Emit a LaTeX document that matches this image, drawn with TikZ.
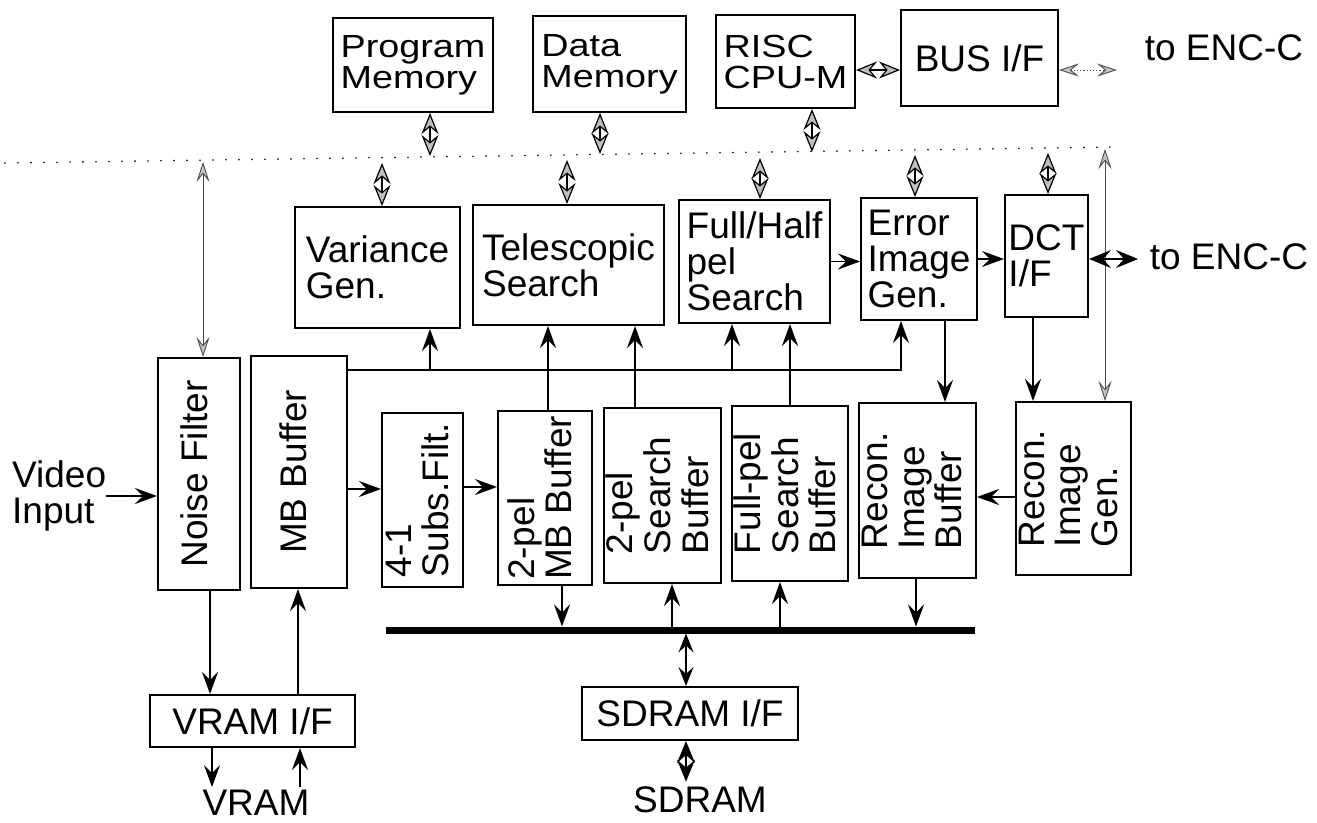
\documentclass[tikz,border=0pt]{standalone}
\usepackage{fontspec}
\setmainfont{Liberation Sans}
\newfontfamily\topfont{Liberation Sans}[FakeStretch=1.18]
\usepackage{graphicx}
\usetikzlibrary{arrows.meta}
\newcommand{\vtxt}[1]{\rotatebox{90}{\begin{tabular}{@{}l@{}}#1\end{tabular}}}
\begin{document}
\begin{tikzpicture}[x=1pt,y=-1pt,line join=miter,
  blk/.style={draw, line width=2pt, inner sep=0pt, font=\fontsize{37}{36}\selectfont, align=left},
  topblk/.style={blk, font=\topfont\fontsize{32}{31}\selectfont},
  lbl/.style={inner sep=0pt, font=\fontsize{37}{36}\selectfont, align=left},
  arr/.style={line width=1.5pt, -{Stealth[length=22pt,width=16pt,inset=8pt]}},
  darr/.style={line width=1.5pt, {Stealth[length=19pt,width=15pt,inset=7pt]}-{Stealth[length=19pt,width=15pt,inset=7pt]}},
  dia/.style={line width=1.2pt, {Stealth[length=21pt,width=17pt,inset=7pt,fill=gray!50]}-{Stealth[length=21pt,width=17pt,inset=7pt,fill=gray!50]}},
  diab/.style={line width=1.5pt, {Stealth[length=22pt,width=18pt,inset=8pt]}-{Stealth[length=22pt,width=18pt,inset=8pt]}},
  gthin/.style={draw=gray!60!black, line width=0.9pt, {Stealth[length=20pt,width=13pt,inset=8pt,fill=gray!45]}-{Stealth[length=20pt,width=13pt,inset=8pt,fill=gray!45]}},
  gdot/.style={gthin, dash pattern=on 1.2pt off 2pt}
]
\fill[white] (0,0) rectangle (1317,822);
\useasboundingbox (0,0) rectangle (1317,822);

% top row
\node[topblk, minimum width=160pt, minimum height=94pt] (pm) at (413,65) {Program\\Memory};
\node[topblk, minimum width=153pt, minimum height=96pt] (dm) at (609.5,64) {Data\\Memory};
\node[topblk, minimum width=139pt, minimum height=93pt] (risc) at (785.5,61.5) {RISC\\CPU-M};
\node[blk, minimum width=157pt, minimum height=96pt] (bif) at (979.5,58) {BUS I/F};
\node[lbl] (enc1) at (1224,48) {to ENC-C};

% middle row
\node[blk, minimum width=165pt, minimum height=121pt] (var) at (377.5,267.5) {Variance\\Gen.};
\node[blk, minimum width=191pt, minimum height=120pt] (tel) at (568.5,265) {Telescopic\\Search};
\node[blk, minimum width=151pt, minimum height=123pt] (fh) at (754.5,261.5) {Full/Half\\pel\\Search};
\node[blk, minimum width=116pt, minimum height=122pt] (err) at (919,259) {Error\\Image\\Gen.};
\node[blk, minimum width=83pt, minimum height=122pt] (dct) at (1046.5,256) {DCT\\I/F};
\node[lbl] (enc2) at (1229,257) {to ENC-C};

% bottom row
\node[blk, minimum width=82pt, minimum height=232pt] (nf) at (199,474) {\vtxt{Noise Filter}};
\node[blk, minimum width=96pt, minimum height=232pt] (mbb) at (299,472) {\vtxt{MB Buffer}};
\node[blk, minimum width=81pt, minimum height=174pt] (sub) at (422.5,500) {\vtxt{4-1\\Subs.Filt.}};
\node[blk, minimum width=94pt, minimum height=174pt] (pmb) at (545,498) {\vtxt{2-pel\\MB Buffer}};
\node[blk, minimum width=117pt, minimum height=175pt] (psb) at (662.5,495.5) {\vtxt{2-pel\\Search\\Buffer}};
\node[blk, minimum width=116pt, minimum height=175pt] (fsb) at (790,493.5) {\vtxt{Full-pel\\Search\\Buffer}};
\node[blk, minimum width=117pt, minimum height=175pt] (rib) at (917.5,490.5) {\vtxt{Recon.\\Image\\Buffer}};
\node[blk, minimum width=115pt, minimum height=173pt] (rig) at (1073.5,488.5) {\vtxt{Recon.\\Image\\Gen.}};

% lower
\node[blk, minimum width=205pt, minimum height=52pt] (vif) at (252.5,721) {VRAM I/F};
\node[lbl] (vram) at (256,803) {VRAM};
\node[blk, minimum width=216pt, minimum height=53pt] (sif) at (690,713.5) {SDRAM I/F};
\node[lbl] (sdram) at (700,800) {SDRAM};
\node[lbl, anchor=west] (vin) at (12,496) {Video\\Input};

% dotted separator
\coordinate (dl) at (5,163); \coordinate (dr) at (1117,147);
\draw[line width=1.8pt, line cap=round, dash pattern=on 0pt off 13pt] (dl) -- (dr);

% diamonds top -> dotted
\coordinate (pmd) at (430,156); \draw[dia] (pm.south -| pmd) -- (pmd);
\coordinate (dmd) at (600,154); \draw[dia] (dm.south -| dmd) -- (dmd);
\coordinate (rid) at (812,152); \draw[dia] (risc.south -| rid) -- (rid);
% dotted -> middle
\coordinate (vad) at (382,163); \draw[dia] (vad) -- (var.north -| vad);
\coordinate (ted) at (567,160); \draw[dia] (ted) -- (tel.north -| ted);
\coordinate (fhd) at (760,158); \draw[dia] (fhd) -- (fh.north -| fhd);
\coordinate (erd) at (915,155); \draw[dia] (erd) -- (err.north -| erd);
\coordinate (dcd) at (1048,153); \draw[dia] (dcd) -- (dct.north -| dcd);
% thin gray
\coordinate (nfd) at (203,162); \draw[gthin] (nfd) -- (nf.north -| nfd);
\coordinate (rgd) at (1105,149); \draw[gthin] (rgd) -- (rig.north -| rgd);

% top horizontal
\coordinate (rb) at (0,70); \draw[dia] (risc.east |- rb) -- (bif.west |- rb);
\coordinate (e1) at (1117,70); \draw[gdot] (bif.east |- e1) -- (e1);

% middle horizontal
\draw[arr] (fh.east) -- (err.west |- fh.east);
\draw[arr] (err.east) -- (dct.west |- err.east);
\coordinate (e2) at (1138,259); \draw[diab] (dct.east |- e2) -- (e2);

% bottom horizontal
\draw[arr] (vin.east) -- (nf.west |- vin.east);
\coordinate (h1) at (0,489); \draw[arr] (mbb.east |- h1) -- (sub.west |- h1);
\coordinate (h2) at (0,487); \draw[arr] (sub.east |- h2) -- (pmb.west |- h2);
\coordinate (h3) at (0,497); \draw[arr] (rig.west |- h3) -- (rib.east |- h3);

% MB buffer distribution line
\coordinate (hl) at (0,370); \coordinate (x901) at (901,0);
\draw[arr] (mbb.east |- hl) -| (err.south -| x901);
\coordinate (j1) at (430,370); \draw[arr] (j1) -- (var.south -| j1);
\coordinate (j2) at (732,370); \draw[arr] (j2) -- (fh.south -| j2);

% verticals between middle and bottom
\coordinate (x548) at (548,0); \draw[arr] (pmb.north -| x548) -- (tel.south -| x548);
\coordinate (x635) at (635,0); \draw[arr] (psb.north -| x635) -- (tel.south -| x635);
\coordinate (x790) at (790,0); \draw[arr] (fsb.north -| x790) -- (fh.south -| x790);
\coordinate (x945) at (945,0); \draw[arr] (err.south -| x945) -- (rib.north -| x945);
\coordinate (x1033) at (1033,0); \draw[arr] (dct.south -| x1033) -- (rig.north -| x1033);

% VRAM side
\coordinate (x210) at (210,0); \draw[arr] (nf.south -| x210) -- (vif.north -| x210);
\coordinate (x298) at (298,0); \draw[arr] (vif.north -| x298) -- (mbb.south -| x298);
\coordinate (x212) at (212,0); \draw[arr, shorten >=3pt] (vif.south -| x212) -- (vram.north -| x212);
\coordinate (x300) at (300,0); \draw[arr, shorten <=3pt] (vram.north -| x300) -- (vif.south -| x300);

% bus
\coordinate (busL) at (386,630); \coordinate (busR) at (975,630);
\draw[line width=7pt] (busL) -- (busR);
\coordinate (busT) at (0,626.5); \coordinate (busB) at (0,633.5);
\coordinate (x562) at (562,0); \draw[arr] (pmb.south -| x562) -- (busT -| x562);
\coordinate (x672) at (672,0); \draw[arr] (busT -| x672) -- (psb.south -| x672);
\coordinate (x780) at (780,0); \draw[arr] (busT -| x780) -- (fsb.south -| x780);
\coordinate (x916) at (916,0); \draw[arr] (rib.south -| x916) -- (busT -| x916);
\coordinate (x686) at (686,0); \draw[darr] (busB -| x686) -- (sif.north -| x686);
\draw[diab, shorten >=5pt] (sif.south -| x686) -- (sdram.north -| x686);
\end{tikzpicture}
\end{document}
